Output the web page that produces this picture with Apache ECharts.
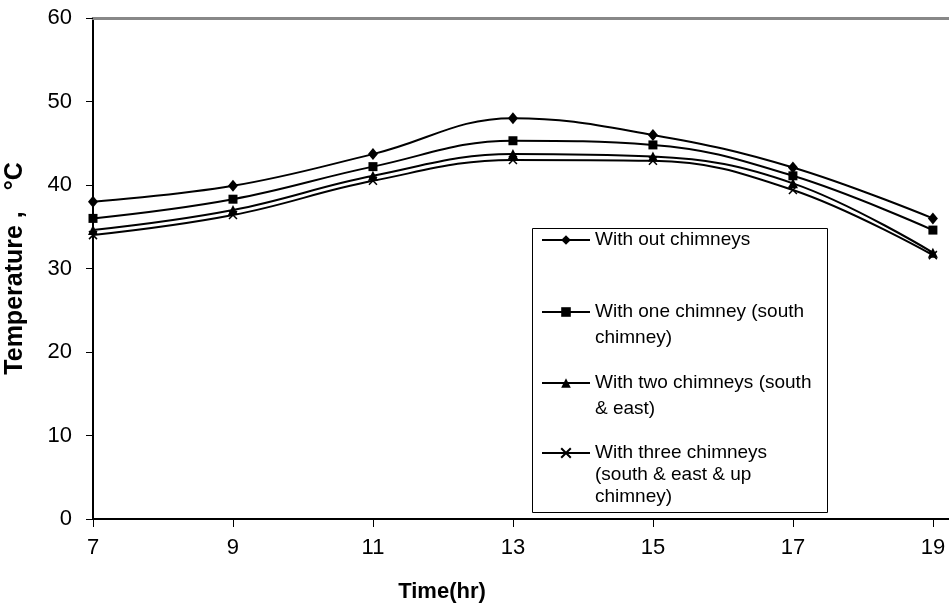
<!DOCTYPE html>
<html>
<head>
<meta charset="utf-8">
<script src="https://cdn.jsdelivr.net/npm/echarts@6/dist/echarts.min.js"></script>
<style>
html,body{margin:0;padding:0;background:#fff;}
#chart{width:949px;height:612px;}
</style>
</head>
<body>
<div id="chart"></div>
<script>
// ---- data ----
const hours = [7, 9, 11, 13, 15, 17, 19];
const xTickLabels = [7, 9, 11, 13, 15, 17, 19];
const noChimney = [38.0, 39.9, 43.7, 48.0, 46.0, 42.1, 36.0];
const oneChimney = [36.0, 38.3, 42.2, 45.3, 44.8, 41.1, 34.6];
const twoChimneys = [34.6, 37.0, 41.1, 43.7, 43.4, 40.2, 31.9];
const threeChimneys = [34.0, 36.4, 40.5, 43.0, 42.9, 39.4, 31.6];
const seriesNames = [
  'With out chimneys',
  'With one chimney (south\nchimney)',
  'With two chimneys (south\n& east)',
  'With three chimneys\n(south & east & up\nchimney)'
];

const FONT = '"Liberation Sans", Arial, sans-serif';
const chart = echarts.init(document.getElementById('chart'), null, {renderer: 'canvas'});

function pairs(ys) { return hours.map((h, i) => [h, ys[i]]); }

const xSymbol = 'path://M0,0L10,10M10,0L0,10';
const seriesDefs = [
  {data: noChimney, symbol: 'diamond', size: [10, 12], border: 0},
  {data: oneChimney, symbol: 'rect', size: 9, border: 0},
  {data: twoChimneys, symbol: 'triangle', size: 10, border: 0},
  {data: threeChimneys, symbol: xSymbol, size: 8, border: 1.5}
];

// legend layout (one legend block per entry, icon aligned with first text line)
const legendIconY = [240, 312, 383, 453];
const legendLineH = [22, 26, 26, 22];
const legends = seriesNames.map((n, i) => {
  const lines = n.split('\n').length;
  const lh = legendLineH[i];
  return {
    data: [n],
    orient: 'vertical',
    left: 541,
    top: legendIconY[i] - (2 * lines - 1) * lh / 2,
    itemWidth: 48,
    itemHeight: 12,
    padding: 0,
    selectedMode: false,
    formatter: (name) => '\n'.repeat(lines - 1) + name,
    textStyle: {fontFamily: FONT, fontSize: 19, color: '#000', lineHeight: lh}
  };
});

const option = {
  animation: false,
  backgroundColor: '#fff',
  textStyle: {fontFamily: FONT},
  grid: {left: 93, right: 0, top: 18, bottom: 93, containLabel: false, outerBoundsMode: 'none'},
  xAxis: [{
    type: 'value', min: 7, max: 19.23,
    name: 'Time(hr)', nameLocation: 'middle', nameGap: 62,
    nameTextStyle: {fontFamily: FONT, fontSize: 22, fontWeight: 'bold', color: '#000', padding: [0, 158, 0, 0]},
    axisLine: {show: true, lineStyle: {color: '#000', width: 2}},
    axisTick: {show: true, length: 8, lineStyle: {color: '#000', width: 1}, customValues: xTickLabels},
    axisLabel: {fontFamily: FONT, fontSize: 22, color: '#000', margin: 18, customValues: xTickLabels},
    splitLine: {show: false}
  }, {
    type: 'value', min: 7, max: 19.23, position: 'top',
    axisLine: {show: true, onZero: false, lineStyle: {color: '#888', width: 3}},
    axisTick: {show: false}, axisLabel: {show: false}, splitLine: {show: false}
  }],
  yAxis: {
    type: 'value', min: 0, max: 60, interval: 10,
    name: 'Temperature ,   \u00B0C', nameLocation: 'middle', nameGap: 65,
    nameTextStyle: {fontFamily: FONT, fontSize: 25, fontWeight: 'bold', color: '#000'},
    axisLine: {show: true, lineStyle: {color: '#000', width: 2}},
    axisTick: {show: true, length: 7, lineStyle: {color: '#000', width: 1}},
    axisLabel: {fontFamily: FONT, fontSize: 22, color: '#000', margin: 21},
    splitLine: {show: false}
  },
  legend: legends,
  graphic: [{
    type: 'rect', z: 100,
    shape: {x: 532.5, y: 228.5, width: 295, height: 284},
    style: {fill: 'none', stroke: '#000', lineWidth: 1}
  }],
  series: seriesDefs.map((s, i) => ({
    name: seriesNames[i],
    type: 'line',
    data: pairs(s.data),
    smooth: 0.4,
    symbol: s.symbol,
    symbolSize: s.size,
    showAllSymbol: true,
    lineStyle: {color: '#000', width: 2},
    itemStyle: {color: '#000', borderColor: '#000', borderWidth: s.border},
    emphasis: {disabled: true}
  }))
};
chart.setOption(option);
</script>
</body>
</html>
